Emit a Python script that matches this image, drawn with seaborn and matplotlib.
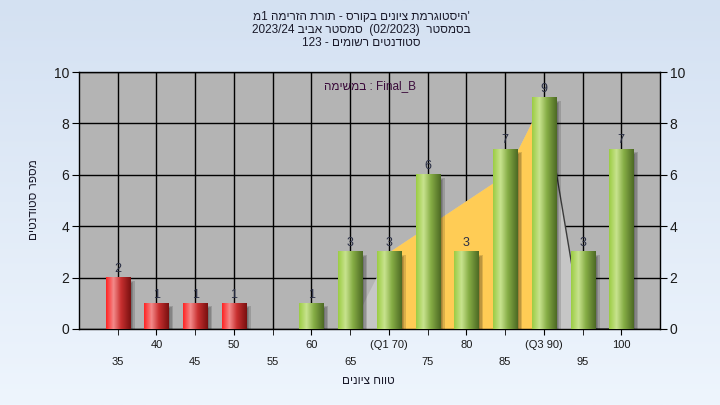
import re
import numpy as np
import pandas as pd
import seaborn as sns
import matplotlib.pyplot as plt
from matplotlib.colors import LinearSegmentedColormap
from matplotlib.patches import Rectangle

grades = ["35", "40", "45", "50", "55", "60", "65", "70", "75", "80", "85", "90", "95", "100"]
counts = [2, 1, 1, 1, 0, 1, 3, 3, 6, 3, 7, 9, 3, 7]
tick_labels = ["35", "40", "45", "50", "55", "60", "65", "(Q1 70)", "75", "80", "85", "(Q3 90)", "95", "100"]
pass_grade = 55

# background band behind the bars
band_grades = ["65", "70", "75", "80", "85", "90", "95"]
band_values = [0, 3, 4, 5, 6, 9, 0]
iqr_grades = ["70", "75", "80", "85", "90"]
iqr_values = [3, 4, 5, 6, 9]

title_lines = [
    "'היסטוגרמת ציונים בקורס - תורת הזרימה 1מ",
    "בסמסטר  (02/2023)  סמסטר אביב 2023/24",
    "סטודנטים רשומים - 123",
]
task_text = "Final_B : במשימה"
x_title = "טווח ציונים"
y_title = "מספר סטודנטים"


def rtl(s):
    # matplotlib has no bidi, so lay the text out in visual order
    r = s[::-1]
    r = re.sub(r"[0-9A-Za-z_/.]+", lambda m: m.group(0)[::-1], r)
    return r.translate(str.maketrans("()", ")("))


sns.set_style("white")
plt.rcParams["font.family"] = ["Liberation Sans", "DejaVu Sans"]

fig = plt.figure(figsize=(7.2, 4.05), dpi=100)

bg = fig.add_axes([0, 0, 1, 1], zorder=-10)
bg_cmap = LinearSegmentedColormap.from_list("bg", ["#eef5fd", "#d4e1f2"])
bg.imshow(np.linspace(0, 1, 256).reshape(-1, 1)[::-1], aspect="auto", cmap=bg_cmap, extent=[0, 1, 0, 1])
bg.axis("off")

ax = fig.add_axes([79 / 720, 1 - 329 / 405, 581 / 720, 257 / 405])
ax.set_facecolor("#b4b4b4")

df = pd.DataFrame({"grade": grades, "count": counts})
colors = ["#ff3030" if int(g) < pass_grade else "#a0cc50" for g in grades]
sns.barplot(data=df, x="grade", y="count", hue="grade", palette=colors, order=grades,
            width=0.62, legend=False, ax=ax, zorder=3, linewidth=0)

pos = {g: i for i, g in enumerate(grades)}
bx = [pos[g] for g in band_grades]
ax.fill_between(bx, 0, band_values, color="#c6c6c6", lw=0, zorder=1)
ix = [pos[g] for g in iqr_grades]
ax.fill_between(ix, 0, iqr_values, color="#ffcc55", lw=0, zorder=1.2)
ax.plot([bx[-2], bx[-1], bx[-1] + 1], [band_values[-2], band_values[-1], 0], color="#3a3a3a", lw=1, zorder=1.3)

green = LinearSegmentedColormap.from_list("g", [(0, "#9ccc44"), (0.3, "#c8e38e"), (0.6, "#86ad45"), (1, "#4d6a24")])
red = LinearSegmentedColormap.from_list("r", [(0, "#ff2424"), (0.3, "#f38a8a"), (0.6, "#c83030"), (1, "#7a1010")])
grad = np.linspace(0, 1, 64).reshape(1, -1)
px = 1 / 38.9
py = 10 / 257
for p, g, c in zip(ax.patches, grades, counts):
    if c <= 0:
        continue
    x0 = p.get_x()
    x1 = x0 + p.get_width()
    h = p.get_height()
    for k in range(4):
        ax.add_patch(Rectangle((x1 - 1 * px, 0), (6 - 1.5 * k) * px, h - (3 + k) * py,
                               color="black", alpha=0.14, lw=0, zorder=2.5))
    cm = red if int(g) < pass_grade else green
    ax.imshow(grad, cmap=cm, extent=[x0, x1, 0, h], aspect="auto", zorder=3.5)
    ax.annotate(str(c), (p.get_x() + p.get_width() / 2, h), xytext=(0, 2), textcoords="offset points",
                ha="center", va="bottom", fontsize=9, color="#2b3046", zorder=5)

ax.set_xlim(-1, len(grades))
ax.set_ylim(0, 10)
ax.set_yticks(range(0, 11, 2))
idx = list(range(len(grades)))
ax.set_xticks(idx[1::2], [tick_labels[i] for i in idx[1::2]])
ax.set_xticks(idx[0::2], [tick_labels[i] for i in idx[0::2]], minor=True)

ax.grid(True, which="both", color="black", lw=1)
ax.set_axisbelow(True)
for s in ax.spines.values():
    s.set_color("black")
    s.set_linewidth(1)

ax.tick_params(axis="y", left=True, right=True, labelleft=True, labelright=True, direction="out",
               length=5, color="black", labelsize=10, labelcolor="#1a1a1a", pad=2)
ax.tick_params(axis="x", which="both", bottom=True, direction="out", length=4, color="black",
               labelsize=8, labelcolor="#1a1a1a")
ax.tick_params(axis="x", which="major", pad=4)
ax.tick_params(axis="x", which="minor", pad=16.5)
ax.set_xlabel("")
ax.set_ylabel("")

ax.text(0.5, 0.945, rtl(task_text), transform=ax.transAxes, ha="center", va="center",
        fontsize=8.5, color="#3a0a3a", zorder=6)

for i, line in enumerate(title_lines):
    fig.text(361 / 720, 1 - (17 + 13 * i) / 405, rtl(line), ha="center", va="center", fontsize=8.5, color="#1a1a2a")
fig.text(368 / 720, 1 - 381 / 405, rtl(x_title), ha="center", va="center", fontsize=8.5, color="#1a1a2a")
fig.text(34 / 720, 1 - 200 / 405, rtl(y_title), ha="center", va="center", rotation=90, fontsize=8.5, color="#1a1a2a")

fig.savefig("out.png", dpi=100)
